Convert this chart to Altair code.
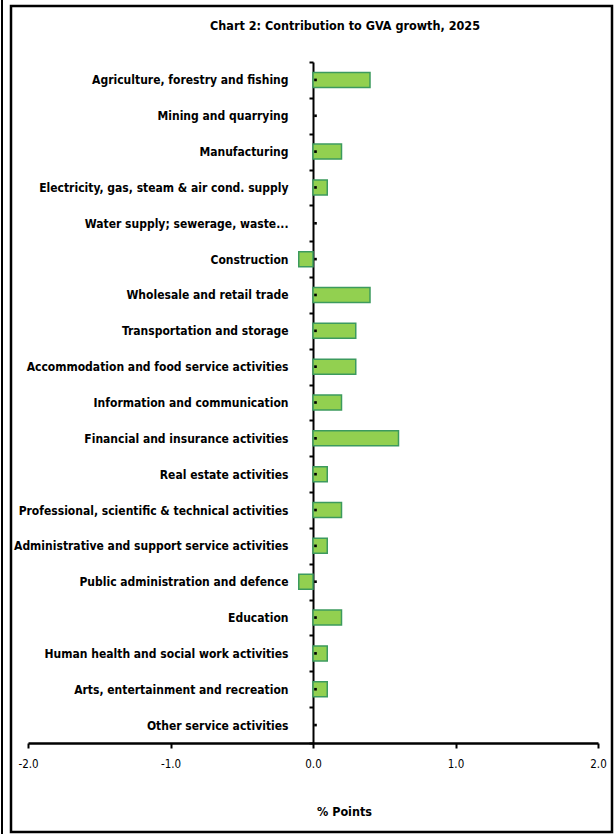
import altair as alt
import pandas as pd

# Contribution of each industry to GVA growth, percentage points
sectors = [
    "Agriculture, forestry and fishing",
    "Mining and quarrying",
    "Manufacturing",
    "Electricity, gas, steam & air cond. supply",
    "Water supply; sewerage, waste...",
    "Construction",
    "Wholesale and retail trade",
    "Transportation and storage",
    "Accommodation and food service activities",
    "Information and communication",
    "Financial and insurance activities",
    "Real estate activities",
    "Professional, scientific & technical activities",
    "Administrative and support service activities",
    "Public administration and defence",
    "Education",
    "Human health and social work activities",
    "Arts, entertainment and recreation",
    "Other service activities",
]
contribution = [0.4, 0.0, 0.2, 0.1, 0.0, -0.1, 0.4, 0.3, 0.3, 0.2,
                0.6, 0.1, 0.2, 0.1, -0.1, 0.2, 0.1, 0.1, 0.0]
x_tick_values = [-2, -1, 0, 1, 2]

df = pd.DataFrame({"sector": sectors, "value": contribution})

FONT = "DejaVu Sans Condensed, DejaVu Sans, sans-serif"

x_enc = alt.X(
    "value:Q",
    scale=alt.Scale(domain=[-2, 2], nice=False, zero=False),
    axis=alt.Axis(
        values=x_tick_values,
        labelExpr="replace(format(datum.value, '.1f'), '\u2212', '-')",
        labelFlush=False,
        grid=False,
        domainColor="black",
        domainWidth=2.5,
        tickColor="black",
        tickWidth=2,
        tickSize=5,
        labelFont=FONT,
        labelFontSize=11.5,
        labelColor="black",
        labelPadding=10,
        title="% Points",
        titleFont=FONT,
        titleFontSize=12.5,
        titleFontWeight="bold",
        titleColor="black",
        titleX=316,
        titleY=72,
        titleAlign="center",
        titleBaseline="alphabetic",
    ),
)

y_scale = alt.Scale(domain=sectors, paddingInner=0, paddingOuter=0)

y_enc = alt.Y(
    "sector:N",
    sort=None,
    scale=y_scale,
    axis=alt.Axis(
        title=None,
        orient="left",
        offset=-285,
        domainColor="black",
        domainWidth=2,
        tickBand="extent",
        tickColor="black",
        tickWidth=2,
        tickSize=4,
        labelFont=FONT,
        labelFontSize=12,
        labelFontWeight="bold",
        labelColor="black",
        labelPadding=21,
        labelLimit=400,
    ),
)

bars = alt.Chart(df).mark_bar(
    size=15, fill="#92d050", stroke="#3c9a5e", strokeWidth=1.5
).encode(
    x=x_enc,
    y=y_enc,
    strokeOpacity=alt.condition("datum.value == 0", alt.value(0), alt.value(1)),
)

# small marks on the zero line at each category centre
centre_marks = alt.Chart(df).mark_square(
    size=7, color="black", opacity=1, xOffset=2.5
).encode(x=alt.datum(0), y=alt.Y("sector:N", sort=None, scale=y_scale))

frame_df = pd.DataFrame({"k": [0]})
frame = alt.Chart(frame_df).mark_rect(
    filled=False, stroke="black", strokeWidth=2.5
).encode(
    x=alt.value(-17), x2=alt.value(584), y=alt.value(-56), y2=alt.value(770)
)
edge = alt.Chart(frame_df).mark_rule(stroke="black", strokeWidth=2).encode(
    x=alt.value(-26), y=alt.value(-62), y2=alt.value(772)
)

chart = alt.layer(frame, edge, bars, centre_marks).properties(
    width=570,
    height=681,
    padding={"left": 28, "top": 62, "right": 16, "bottom": 91},
    autosize=alt.AutoSizeParams(type="none"),
    title=alt.Title(
        "Chart 2: Contribution to GVA growth, 2025",
        font=FONT,
        fontSize=12.5,
        fontWeight="bold",
        color="black",
        anchor="middle",
        frame="group",
        baseline="alphabetic",
        dx=32,
        offset=-43,
    ),
).configure_view(stroke="transparent")

chart.save("out.html", embed_options={"renderer": "svg", "actions": False})
